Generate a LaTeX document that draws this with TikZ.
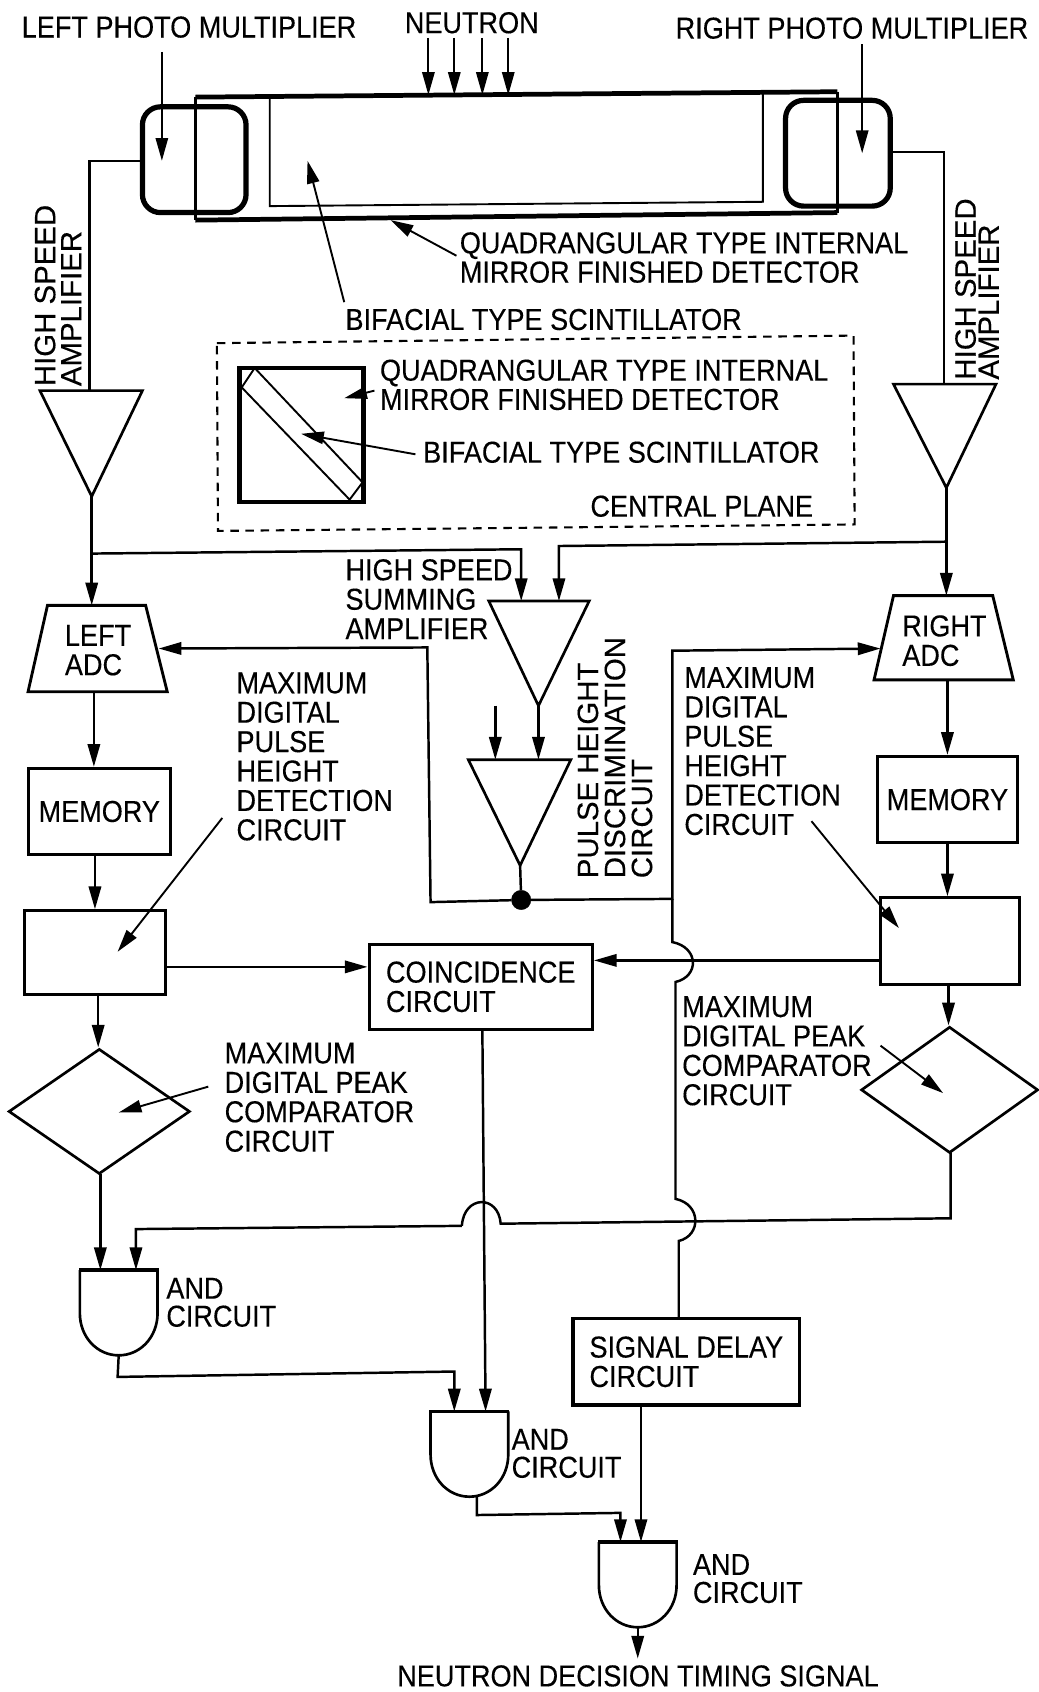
\documentclass[tikz,border=0pt]{standalone}
\usepackage{fontspec}
\setmainfont[FakeStretch=0.895,FakeBold=0.25]{Liberation Sans}
\newfontfamily\widefont[FakeBold=0.25]{Liberation Sans}
\usetikzlibrary{arrows.meta,shapes.geometric}
\tikzset{
  wire/.style={line width=2.6pt,line join=miter},
  thinwire/.style={line width=2pt},
  arr/.style={wire,-{Triangle[length=24pt,width=13pt]}},
  thinarr/.style={thinwire,-{Triangle[length=24pt,width=13pt]}},
  lab/.style={anchor=north west,inner sep=0pt,align=left,font=\fontsize{31.9}{31}\selectfont},
  rotlab/.style={anchor=north west,inner sep=0pt,align=left,rotate=90,font=\widefont\fontsize{31}{#1}\selectfont},
  blockn/.style={draw,line width=3.2pt,inner sep=0pt,align=left,font=\fontsize{31.9}{31}\selectfont},
  diam/.style={diamond,draw,line width=2.8pt,inner sep=0pt},
  pmt/.style={draw,line width=5.5pt,rounded corners=19pt,inner sep=0pt},
  shapeline/.style={line width=2.8pt,line join=miter},
}
\newcommand\rectn[6][]{\node[blockn,#1,minimum width={(#4-#2)*0.04cm},minimum height={(#5-#3)*0.04cm}] (#6) at ({(#2+#4)/2},{(#3+#5)/2})}
\newcommand\andgate[3]{%
  \begin{scope}[shift={(#2,#3)}]
    \draw[shapeline] (0,0) -- (0,40) .. controls (0,62) and (16,79) .. (36,79)
      .. controls (56,79) and (72,62) .. (72,40) -- (72,0);
    \draw[line width=4pt] (-1,0) -- (73,0);
    \coordinate (#1out) at (36,79);
    \coordinate (#1top) at (36,0);
  \end{scope}}
\begin{document}
\begin{tikzpicture}[x=0.04cm,y=-0.04cm]
\useasboundingbox (0,0) rectangle (962,1568);

% ---------- detector ----------
\coordinate (detTL) at (181,90);
\coordinate (detTR) at (776,85);
\coordinate (detBR) at (776,197);
\coordinate (detBL) at (181,204);
\draw[line width=5pt] (detTR) -- (detTL);
\draw[line width=5pt] (detBL) -- (detBR);
\draw[line width=3pt] (detTL) -- (detBL);
\draw[line width=3pt] (detTR) -- (detBR);
\coordinate (sciTL) at (250,91);
\coordinate (sciBL) at (250,191);
\coordinate (sciBR) at (707,187);
\coordinate (sciTR) at (707,87);
\draw[thinwire] (sciTL) -- (sciBL) -- (sciBR) -- (sciTR);
\node[pmt,minimum width=3.84cm,minimum height=3.92cm] (pmL) at (180,148) {};
\node[pmt,minimum width=3.88cm,minimum height=3.92cm] (pmR) at (776.5,142) {};

% ---------- top labels ----------
\node[lab] (tLeft) at (20,15) {LEFT PHOTO MULTIPLIER};
\node[lab] (tNeutron) at (375,11) {NEUTRON};
\node[lab] (tRight) at (626,16) {RIGHT PHOTO MULTIPLIER};
\foreach \i/\xx in {1/397,2/421,3/447,4/471}{
  \coordinate (nS\i) at (\xx,35);
  \coordinate (nE\i) at (\xx,88);
  \draw[thinarr] (nS\i) -- (nE\i);
}
\coordinate (lpS) at (150,48); \coordinate (lpE) at (150,149);
\coordinate (rpS) at (799,41); \coordinate (rpE) at (799,142);
\draw[thinarr] (lpS) -- (lpE);
\draw[thinarr] (rpS) -- (rpE);

\node[lab] (tQuadA) at (426,215) {QUADRANGULAR TYPE INTERNAL\\[-0.2pt]MIRROR FINISHED DETECTOR};
\coordinate (qaS) at (423,237); \coordinate (qaE) at (362,204);
\draw[thinarr] (qaS) -- (qaE);
\node[lab] (tBifA) at (320,286) {BIFACIAL TYPE SCINTILLATOR};
\coordinate (baS) at (319,280); \coordinate (baE) at (285,149);
\draw[thinarr] (baS) -- (baE);

% ---------- central plane inset ----------
\coordinate (dpTL) at (201,318); \coordinate (dpTR) at (791,311);
\coordinate (dpBR) at (792,486); \coordinate (dpBL) at (202,492);
\draw[line width=2.2pt,dash pattern=on 9pt off 7pt] (dpTL) -- (dpTR) -- (dpBR) -- (dpBL) -- cycle;
\node[draw,line width=4.6pt,minimum width=4.6cm,minimum height=4.96cm,inner sep=0pt] (sq) at (279.5,403) {};
\coordinate (dA) at (236,341); \coordinate (dB) at (336,447);
\coordinate (dC) at (324,463); \coordinate (dD) at (224,359);
\draw[thinwire] (dA) -- (dB) -- (dC) -- (dD) -- cycle;
\node[lab] (tQuadB) at (352,333) {QUADRANGULAR TYPE INTERNAL\\[-0.2pt]MIRROR FINISHED DETECTOR};
\coordinate (qbS) at (347,362); \coordinate (qbE) at (319,369);
\draw[thinarr] (qbS) -- (qbE);
\node[lab] (tBifB) at (392,409) {BIFACIAL TYPE SCINTILLATOR};
\coordinate (bbS) at (385,421); \coordinate (bbE) at (279,402);
\draw[thinarr] (bbS) -- (bbE);
\node[lab] (tPlane) at (547,459) {CENTRAL PLANE};

% ---------- high speed amplifiers ----------
\coordinate (ampLl) at (37,362); \coordinate (ampLr) at (132,362); \coordinate (ampLt) at (85,460);
\draw[shapeline] (ampLl) -- (ampLr) -- (ampLt) -- cycle;
\coordinate (ampLin) at (83,362);
\draw[wire] (pmL.west |- 0,149) -- (83,149) -- (ampLin);
\coordinate (ampRl) at (828,356); \coordinate (ampRr) at (923,356); \coordinate (ampRt) at (877,452);
\draw[shapeline] (ampRl) -- (ampRr) -- (ampRt) -- cycle;
\coordinate (ampRin) at (875,356);
\draw[wire] (pmR.east |- 0,141) -- (875,141) -- (ampRin);
\node[rotlab=27.5pt] (tAmpL) at (32,358) {HIGH SPEED\\AMPLIFIER};
\node[rotlab=24.5pt] (tAmpR) at (885,352) {HIGH SPEED\\AMPLIFIER};

% ---------- ADCs ----------
\coordinate (adcLa) at (44,561); \coordinate (adcLb) at (135,561);
\coordinate (adcLc) at (155,641); \coordinate (adcLd) at (26,641);
\draw[line width=3pt] (adcLa) -- (adcLb) -- (adcLc) -- (adcLd) -- cycle;
\node[lab] (tAdcL) at (60,579) {LEFT\\ADC};
\coordinate (adcRa) at (828,552); \coordinate (adcRb) at (920,552);
\coordinate (adcRc) at (939,630); \coordinate (adcRd) at (810,630);
\draw[line width=3pt] (adcRa) -- (adcRb) -- (adcRc) -- (adcRd) -- cycle;
\node[lab] (tAdcR) at (836,570) {RIGHT\\ADC};
\coordinate (adcLtop) at (85,561);
\coordinate (adcRtop) at (877,552);
\coordinate (adcLside) at (147,601);
\coordinate (adcRside) at (816,601);
\draw[arr] (ampLt) -- (adcLtop);
\draw[arr] (ampRt) -- (adcRtop);

% ---------- summing amplifier and discriminator ----------
\coordinate (sumL) at (453,557); \coordinate (sumR) at (546,557); \coordinate (sumT) at (499,654);
\draw[shapeline] (sumL) -- (sumR) -- (sumT) -- cycle;
\coordinate (sumInA) at (483,557); \coordinate (sumInB) at (518,557);
\coordinate (tapL) at (85,513); \coordinate (tapR) at (877,502);
\draw[arr] (tapL) -- (483,509) -- (sumInA);
\draw[arr] (tapR) -- (518,506) -- (sumInB);
\node[lab] (tSum) at (320,518) {HIGH SPEED\\SUMMING\\AMPLIFIER};
\coordinate (phL) at (434,704); \coordinate (phR) at (529,704); \coordinate (phT) at (482,802);
\draw[shapeline] (phL) -- (phR) -- (phT) -- cycle;
\coordinate (phInA) at (459,704); \coordinate (phRefS) at (459,654); \coordinate (phInB) at (499,704);
\draw[arr] (phRefS) -- (phInA);
\draw[arr] (sumT) -- (phInB);
\node[rotlab=28.5pt] (tPulse) at (535,814) {PULSE HEIGHT\\DISCRIMINATION\\CIRCUIT};
\node[circle,fill=black,draw=black,minimum size=0.72cm,inner sep=0pt] (dot) at (483,834) {};
\draw[wire] (phT) -- (dot);
\coordinate (fbL) at (399,836); \coordinate (fbLu) at (396,600);
\draw[arr] (dot) -- (fbL) -- (fbLu) -- (adcLside);
\coordinate (fbRj) at (623,833); \coordinate (fbRu) at (623,603);
\draw[arr] (dot) -- (fbRj) -- (fbRu) -- (adcRside);

% ---------- memories and detection circuits ----------
\rectn{26}{712}{158}{792}{memL} {MEMORY};
\rectn{813}{701}{943}{781}{memR} {MEMORY};
\rectn{23}{844}{153}{922}{boxL} {};
\rectn{816}{832}{945}{912}{boxR} {};
\rectn{342}{875}{549}{954}{coin} {COINCIDENCE\\CIRCUIT};
\coordinate (xa) at (87,0); \coordinate (xb) at (88,0); \coordinate (xc) at (91,0);
\coordinate (xd) at (878,0); \coordinate (xe) at (879,0);
\draw[arr] (adcLd -| xa) -- (memL.north -| xa);
\draw[arr] (memL.south -| xb) -- (boxL.north -| xb);
\draw[arr] (adcRd -| xd) -- (memR.north -| xd);
\draw[arr] (memR.south -| xd) -- (boxR.north -| xd);
\node[diam,minimum width=6.72cm,minimum height=4.64cm] (diaL) at (92,1030) {};
\node[diam,minimum width=6.56cm,minimum height=4.68cm] (diaR) at (880,1010) {};
\draw[arr] (boxL.south -| xc) -- (diaL.north -| xc);
\draw[arr] (boxR.south -| xe) -- (diaR.north -| xe);

\coordinate (ya) at (0,896);
\draw[arr] (boxL.east |- ya) -- (coin.west |- ya);
\coordinate (yb) at (0,890);
\draw[arr] (boxR.west |- yb) -- (coin.east |- yb);

\node[lab] (tMaxL) at (219,623) {MAXIMUM\\DIGITAL\\PULSE\\HEIGHT\\DETECTION\\CIRCUIT};
\node[lab] (tMaxR) at (634,618) {MAXIMUM\\DIGITAL\\PULSE\\HEIGHT\\DETECTION\\CIRCUIT};
\node[lab] (tPeakL) at (208,966) {MAXIMUM\\DIGITAL PEAK\\COMPARATOR\\CIRCUIT};
\node[lab] (tPeakR) at (632,923) {MAXIMUM\\DIGITAL PEAK\\COMPARATOR\\CIRCUIT};
\coordinate (mlS) at (206,758); \coordinate (mlE) at (109,882);
\coordinate (mrS) at (752,761); \coordinate (mrE) at (833,860);
\coordinate (plS) at (193,1007); \coordinate (plE) at (110,1031);
\coordinate (prS) at (816,969); \coordinate (prE) at (874,1013);
\draw[thinarr] (mlS) -- (mlE);
\draw[thinarr] (mrS) -- (mrE);
\draw[thinarr] (plS) -- (plE);
\draw[thinarr] (prS) -- (prE);

% ---------- jumps on the long vertical line ----------
\coordinate (vJ1a) at (623,873); \coordinate (vJ1b) at (626,910);
\coordinate (vJ2a) at (626,1111); \coordinate (vJ2b) at (629,1150);
\rectn{531}{1222}{741}{1302}{delay} {SIGNAL DELAY\\CIRCUIT};
\coordinate (delIn) at (629,1222);
\draw[wire] (fbRj) -- (vJ1a) .. controls (648,878) and (648,905) .. (vJ1b) -- (vJ2a)
  .. controls (650,1116) and (650,1145) .. (vJ2b) -- (delIn);

% ---------- AND gates ----------
\andgate{gA}{74}{1177}
\andgate{gB}{399}{1308}
\andgate{gC}{555}{1429}
\node[lab,font=\fontsize{31.9}{29.5}\selectfont] (tAndA) at (154,1184) {AND\\CIRCUIT};
\node[lab,font=\fontsize{31.9}{29.5}\selectfont] (tAndB) at (474,1324) {AND\\CIRCUIT};
\node[lab,font=\fontsize{31.9}{29.5}\selectfont] (tAndC) at (642,1440) {AND\\CIRCUIT};

\coordinate (gAa) at (93,1177); \coordinate (gAb) at (126,1177);
\coordinate (dLo) at (93,1088);
\draw[arr] (dLo) -- (gAa);
\coordinate (hR) at (881,1129); \coordinate (dRo) at (881,1068);
\coordinate (hH1) at (464,1134); \coordinate (hH2) at (428,1136);
\draw[wire] (dRo) -- (hR) -- (hH1) .. controls (462,1107) and (430,1107) .. (hH2);
\draw[arr] (hH2) -- (126,1139) -- (gAb);

\coordinate (gBa) at (421,1308); \coordinate (gBb) at (450,1308);
\coordinate (coinOut) at (447,954);
\draw[arr] (coinOut) -- (gBb);
\draw[arr] (gAout) -- (109,1276) -- (421,1271) -- (gBa);

\coordinate (gCa) at (575,1429); \coordinate (gCb) at (594,1429);
\coordinate (gBtap) at (442,1386);
\draw[arr] (gBtap) -- (442,1404) -- (575,1402) -- (gCa);
\draw[arr] (delay.south -| gCb) -- (gCb);

\coordinate (finalE) at (591,1537);
\draw[arr] (gCout) -- (finalE);
\node[lab] (tFinal) at (368,1543) {NEUTRON DECISION TIMING SIGNAL};
\end{tikzpicture}
\end{document}
